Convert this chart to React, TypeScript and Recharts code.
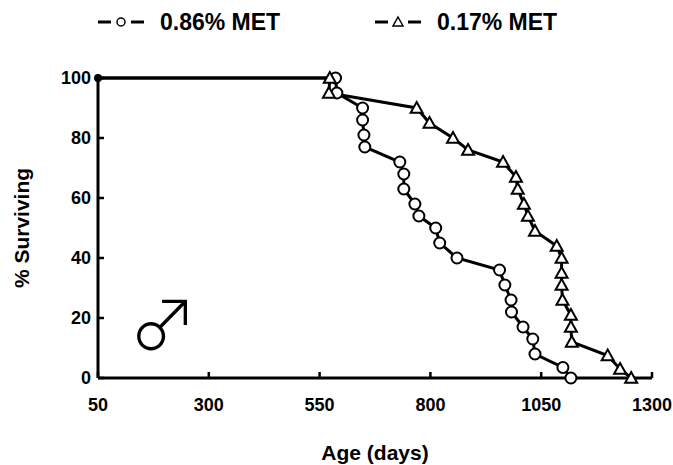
import { LineChart, Line, XAxis, YAxis } from "recharts";

const xTicks = [50, 300, 550, 800, 1050, 1300];
const yTicks = [0, 20, 40, 60, 80, 100];
const seriesNames = ["0.86% MET", "0.17% MET"];

// 0.86% MET (circles)
const highDays = [50, 586, 589, 647, 647, 650, 652, 731, 740, 740, 765, 774, 812, 821, 860, 956, 968, 982, 983, 1009, 1031, 1036, 1099, 1117];
const highSurv = [100, 100, 95, 90, 86, 81, 77, 72, 68, 63, 58, 54, 50, 45, 40, 36, 31, 26, 22, 17, 13, 8, 3.5, 0];

// 0.17% MET (triangles)
const lowDays = [50, 573, 571, 769, 798, 851, 885, 964, 993, 997, 1011, 1020, 1036, 1085, 1096, 1096, 1096, 1098, 1117, 1117, 1119, 1200, 1228, 1253];
const lowSurv = [100, 100, 95, 90, 85, 80, 76, 72, 67, 63, 58, 54, 49, 44, 40, 35, 31, 26, 21, 17, 12, 7.5, 3, 0];

const highData = highDays.map((day, i) => ({ day, surv: highSurv[i] }));
const lowData = lowDays.map((day, i) => ({ day, surv: lowSurv[i] }));

const FONT = '"Liberation Sans", Arial, Helvetica, sans-serif';
const MARGIN = 10;

function XTick({ x, y, payload }: any) {
  const ay = y - MARGIN;
  return (
    <g>
      <line x1={x} x2={x} y1={ay} y2={ay - 6} stroke="#000" strokeWidth={2.5} />
      <text x={x} y={ay + 33} textAnchor="middle" fontFamily={FONT} fontWeight="bold" fontSize={18} fill="#000">
        {payload.value}
      </text>
    </g>
  );
}

function YTick({ x, y, payload }: any) {
  const ax = x + MARGIN;
  return (
    <g>
      <line x1={ax} x2={ax + 6} y1={y} y2={y} stroke="#000" strokeWidth={2.5} />
      <text x={ax - 7} y={y} dy="0.36em" textAnchor="end" fontFamily={FONT} fontWeight="bold" fontSize={18} fill="#000">
        {payload.value}
      </text>
    </g>
  );
}

function circleDot(props: any) {
  const { cx, cy, index } = props;
  if (index === 0) return <circle key={index} cx={cx} cy={cy} r={4} fill="#000" />;
  return <circle key={index} cx={cx} cy={cy} r={5.5} fill="#fff" stroke="#000" strokeWidth={2} />;
}

function triangleDot(props: any) {
  const { cx, cy, index } = props;
  if (index === 0) return <g key={index} />;
  const s = 6;
  const pts = `${cx},${cy - s} ${cx + s},${cy + s * 0.8} ${cx - s},${cy + s * 0.8}`;
  return <polygon key={index} points={pts} fill="#fff" stroke="#000" strokeWidth={2} strokeLinejoin="miter" />;
}

function LegendSymbol({ kind }: { kind: string }) {
  return (
    <svg width={46} height={20} style={{ verticalAlign: "middle" }}>
      <line x1={0} x2={13} y1={10} y2={10} stroke="#000" strokeWidth={3} />
      <line x1={33} x2={46} y1={10} y2={10} stroke="#000" strokeWidth={3} />
      {kind === "circle" ? (
        <circle cx={23} cy={10} r={4} fill="#fff" stroke="#000" strokeWidth={1.5} />
      ) : (
        <polygon points="23,5 28,14 18,14" fill="#fff" stroke="#000" strokeWidth={1.5} />
      )}
    </svg>
  );
}

export default function App() {
  return (
    <div style={{ position: "absolute", left: 0, top: 0, width: 673, height: 465, background: "#fff" }}>
      <div style={{ position: "absolute", left: 98, top: 8, display: "flex", fontFamily: FONT, fontWeight: "bold", fontSize: 23, lineHeight: "28px" }}>
        <div style={{ width: 277, display: "flex", alignItems: "center" }}>
          <LegendSymbol kind="circle" />
          <span style={{ marginLeft: 16 }}>{seriesNames[0]}</span>
        </div>
        <div style={{ display: "flex", alignItems: "center" }}>
          <LegendSymbol kind="triangle" />
          <span style={{ marginLeft: 16 }}>{seriesNames[1]}</span>
        </div>
      </div>
      <LineChart width={673} height={465} margin={{ top: 78, right: 21, left: 38, bottom: 57 }}>
        <XAxis
          dataKey="day"
          type="number"
          domain={[50, 1300]}
          ticks={xTicks}
          interval={0}
          height={30}
          tickSize={0}
          tickMargin={MARGIN}
          tick={<XTick />}
          axisLine={{ stroke: "#000", strokeWidth: 3 }}
          allowDuplicatedCategory
          label={{
            content: (p: any) => {
              const vb = p.viewBox;
              return (
                <text x={vb.x + vb.width / 2} y={vb.y + 82} textAnchor="middle" fontFamily={FONT} fontWeight="bold" fontSize={21} fill="#000">
                  Age (days)
                </text>
              );
            },
          }}
        />
        <YAxis
          type="number"
          domain={[0, 100]}
          ticks={yTicks}
          interval={0}
          width={60}
          tickSize={0}
          tickMargin={MARGIN}
          tick={<YTick />}
          axisLine={{ stroke: "#000", strokeWidth: 3 }}
          label={{
            content: (p: any) => {
              const vb = p.viewBox;
              const cy = vb.y + vb.height / 2;
              return (
                <text x={29} y={cy} textAnchor="middle" transform={`rotate(-90, 29, ${cy})`} fontFamily={FONT} fontWeight="bold" fontSize={21} fill="#000">
                  % Surviving
                </text>
              );
            },
          }}
        />
        <Line data={highData} dataKey="surv" name={seriesNames[0]} type="linear" stroke="#000" strokeWidth={3} dot={circleDot} activeDot={false} isAnimationActive={false} />
        <Line data={lowData} dataKey="surv" name={seriesNames[1]} type="linear" stroke="#000" strokeWidth={3} dot={triangleDot} activeDot={false} isAnimationActive={false} />
      </LineChart>
      <div style={{ position: "absolute", left: 129, top: 287, fontFamily: '"Noto Sans CJK JP"', fontWeight: 300, fontSize: 68, lineHeight: "68px" }}>♂</div>
    </div>
  );
}
